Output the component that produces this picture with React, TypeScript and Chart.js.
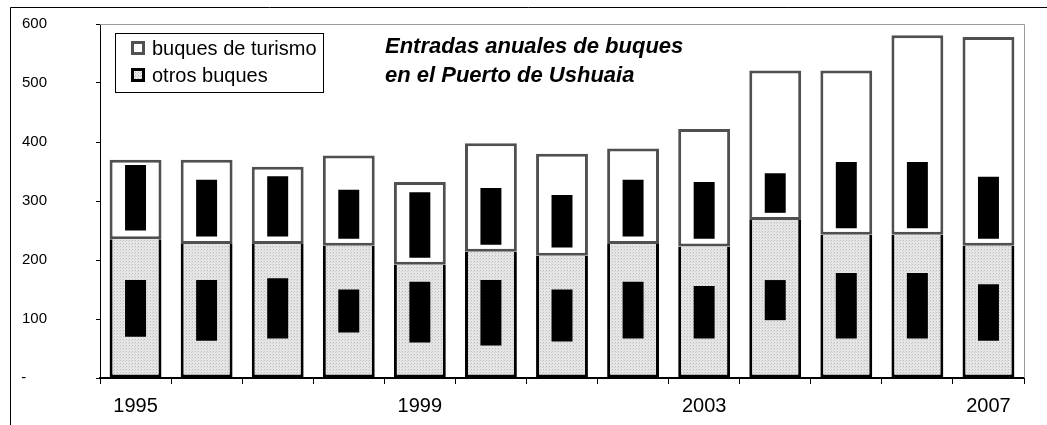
import React, { useEffect, useRef } from 'react';
import { Chart, registerables } from 'chart.js';

Chart.register(...registerables);

const years = ['1995', '1996', '1997', '1998', '1999', '2000', '2001', '2002', '2003', '2004', '2005', '2006', '2007'];
const shownYears = ['1995', '1999', '2003', '2007'];

// grey lower block ("otros buques")
const otrosBuques = [235, 227, 227, 224, 192, 214, 207, 227, 223, 268, 243, 243, 224];
// white upper block ("buques de turismo"), stacked on top
const buquesTurismo = [135, 143, 131, 153, 140, 184, 173, 162, 199, 253, 278, 338, 354];

// narrow black range bars
const upperLow = [250, 240, 240, 236, 204, 226, 221, 240, 236, 280, 254, 254, 236];
const upperHigh = [361, 336, 342, 319, 315, 322, 310, 336, 332, 347, 366, 366, 341];
const lowerLow = [70, 63, 67, 77, 60, 55, 62, 67, 67, 98, 67, 67, 63];
const lowerHigh = [166, 166, 169, 150, 163, 166, 150, 163, 156, 166, 178, 178, 159];

const yMin = 0;
const yMax = 600;
const yStep = 100;

const titleLines = ['Entradas anuales de buques', 'en el Puerto de Ushuaia'];
const legendLabels = ['buques de turismo', 'otros buques'];

const FONT = '"Liberation Sans", Arial, sans-serif';

function makePattern(): CanvasPattern | string {
  const c = document.createElement('canvas');
  c.width = 3;
  c.height = 3;
  const g = c.getContext('2d');
  if (!g) return '#dcdcdc';
  g.fillStyle = '#e6e6e6';
  g.fillRect(0, 0, 3, 3);
  g.fillStyle = '#bdbdbd';
  g.fillRect(0, 0, 1, 1);
  g.fillStyle = '#d2d2d2';
  g.fillRect(2, 1, 1, 1);
  const p = g.createPattern(c, 'repeat');
  return p || '#dcdcdc';
}

export default function App() {
  const ref = useRef<HTMLCanvasElement | null>(null);

  useEffect(() => {
    const canvas = ref.current;
    if (!canvas) return;
    const pattern = makePattern();

    const decor = {
      id: 'decor',
      afterDraw(chart: any) {
        const ctx = chart.ctx as CanvasRenderingContext2D;
        const a = chart.chartArea;
        ctx.save();
        // outer frame
        ctx.strokeStyle = '#000';
        ctx.lineWidth = 1;
        ctx.beginPath();
        ctx.moveTo(10.5, 425);
        ctx.lineTo(10.5, 7.5);
        ctx.lineTo(1047, 7.5);
        ctx.stroke();
        // plot area top/right border
        ctx.strokeStyle = '#9a9a9a';
        ctx.beginPath();
        ctx.moveTo(a.left, a.top + 0.5);
        ctx.lineTo(a.right + 0.5, a.top + 0.5);
        ctx.lineTo(a.right + 0.5, a.bottom);
        ctx.stroke();

        // title
        ctx.fillStyle = '#000';
        ctx.font = `italic bold 22px ${FONT}`;
        ctx.textBaseline = 'alphabetic';
        ctx.textAlign = 'left';
        ctx.fillText(titleLines[0], 385, 53);
        ctx.fillText(titleLines[1], 385, 82);

        // legend
        ctx.fillStyle = '#fff';
        ctx.fillRect(115.5, 33.5, 208, 59);
        ctx.strokeStyle = '#000';
        ctx.lineWidth = 1;
        ctx.strokeRect(115.5, 33.5, 208, 59);
        // item 1
        ctx.fillStyle = '#fff';
        ctx.fillRect(131, 41, 14, 14);
        ctx.strokeStyle = '#505050';
        ctx.lineWidth = 3;
        ctx.strokeRect(132.5, 42.5, 11, 11);
        // item 2
        ctx.fillStyle = pattern as any;
        ctx.fillRect(131, 68, 14, 14);
        ctx.strokeStyle = '#000';
        ctx.strokeRect(132.5, 69.5, 11, 11);
        ctx.fillStyle = '#000';
        ctx.font = `20px ${FONT}`;
        ctx.fillText(legendLabels[0], 152, 55);
        ctx.fillText(legendLabels[1], 152, 82);
        ctx.restore();
      },
    };

    const chart = new Chart(canvas, {
      type: 'bar',
      data: {
        labels: years,
        datasets: [
          {
            label: 'upper range',
            data: years.map((_, i) => [upperLow[i], upperHigh[i]]) as any,
            backgroundColor: '#000',
            borderWidth: 0,
            grouped: false,
            barPercentage: 0.295,
            categoryPercentage: 1,
          },
          {
            label: 'lower range',
            data: years.map((_, i) => [lowerLow[i], lowerHigh[i]]) as any,
            backgroundColor: '#000',
            borderWidth: 0,
            grouped: false,
            barPercentage: 0.295,
            categoryPercentage: 1,
          },
          {
            label: legendLabels[0],
            data: years.map((_, i) => [otrosBuques[i], otrosBuques[i] + buquesTurismo[i]]) as any,
            backgroundColor: '#fff',
            borderColor: '#505050',
            borderWidth: 3,
            borderSkipped: false,
            grouped: false,
            barPercentage: 0.73,
            categoryPercentage: 1,
          },
          {
            label: legendLabels[1],
            data: otrosBuques,
            backgroundColor: pattern as any,
            borderColor: '#000',
            borderWidth: 3,
            borderSkipped: 'end',
            grouped: false,
            barPercentage: 0.73,
            categoryPercentage: 1,
          },
        ],
      },
      options: {
        responsive: false,
        animation: false,
        events: [],
        layout: { padding: { left: 0, right: 23, top: 24, bottom: 0 } },
        plugins: {
          legend: { display: false },
          tooltip: { enabled: false },
          title: { display: false },
        },
        scales: {
          x: {
            type: 'category',
            offset: true,
            grid: {
              offset: true,
              drawOnChartArea: false,
              drawTicks: true,
              tickLength: 6,
              color: '#000',
              lineWidth: 1,
            },
            border: { display: true, color: '#000', width: 2 },
            ticks: {
              autoSkip: false,
              maxRotation: 0,
              color: '#000',
              padding: 10,
              font: { family: FONT, size: 20 },
              callback: (_v: any, i: number) => (shownYears.includes(years[i]) ? years[i] : ''),
            },
            afterFit: (s: any) => {
              s.height = 47;
            },
          },
          y: {
            min: yMin,
            max: yMax,
            grid: {
              drawOnChartArea: false,
              drawTicks: true,
              tickLength: 4,
              color: '#000',
            },
            border: { display: true, color: '#000', width: 1 },
            ticks: {
              stepSize: yStep,
              color: '#000',
              padding: 49,
              font: { family: FONT, size: 15 },
              callback: (v: any) => (Number(v) === 0 ? '-     ' : String(v)),
            },
            afterFit: (s: any) => {
              s.width = 100;
              s.paddingTop = 0;
              s.paddingBottom = 0;
            },
          },
        },
      },
      plugins: [decor],
    });

    return () => chart.destroy();
  }, []);

  return (
    <div style={{ position: 'absolute', left: 0, top: 0, width: 1047, height: 425, background: '#fff' }}>
      <canvas ref={ref} width={1047} height={425} style={{ display: 'block' }} />
    </div>
  );
}
